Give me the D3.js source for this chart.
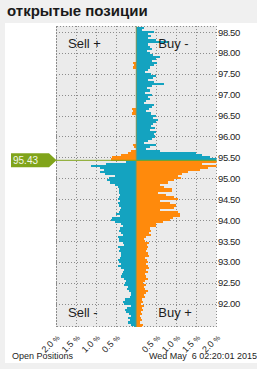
<!DOCTYPE html>
<html>
<head>
<meta charset="utf-8">
<script src="https://cdnjs.cloudflare.com/ajax/libs/d3/7.8.5/d3.min.js"></script>
<style>
  body { margin: 0; background: #f0f0f0; }
  svg { display: block; font-family: "Liberation Sans", Arial, sans-serif; }
  .grid line, .frame { stroke: #8c8c8c; stroke-dasharray: 1,2; shape-rendering: crispEdges; fill: none; }
  .quad { font-size: 13px; fill: #1e1e1e; }
  .axis text { fill: #1e1e1e; }
</style>
</head>
<body>
<svg class="position-book"></svg>
<script>
var title = "открытые позиции";
var footerLeft = "Open Positions";
var footerRight = "Wed May  6 02:20:01 2015";
var currentPrice = 95.43;
var topLevel = 98.60, levelStep = 0.05;
var priceTicks = [98.5, 98.0, 97.5, 97.0, 96.5, 96.0, 95.5, 95.0, 94.5, 94.0, 93.5, 93.0, 92.5, 92.0];
var pctTicks = [-2, -1.5, -1, -0.5, 0.5, 1, 1.5, 2];
var quadLabels = ["Sell +", "Buy -", "Sell -", "Buy +"];

// right side (buy), % of positions per 0.05 level, from 98.60 down to 91.45
var longPct = [
  0.20, 0.15, 0.45, 0.30, 0.38, 0.30, 0.50, 0.80, 0.30, 0.35,
  0.40, 0.27, 0.35, 0.42, 0.60, 0.48, 0.40, 0.52, 0.45, 0.35,
  0.30, 0.22, 0.38, 0.50, 0.42, 0.30, 0.45, 0.68, 0.40, 0.27,
  0.35, 0.22, 0.40, 0.30, 0.35, 0.25, 0.20, 0.45, 0.40, 0.33,
  0.25, 0.38, 0.50, 0.42, 0.55, 0.50, 0.42, 0.38, 0.47, 0.35,
  0.50, 0.45, 0.47, 0.40, 0.30, 0.20, 0.50, 0.35, 0.25, 0.60,
  1.50, 1.65, 1.85, 2.10,
  2.05, 1.65, 2.05, 1.80, 1.60, 1.30, 1.15, 1.05, 1.12, 0.95,
  0.80, 0.60, 0.70, 0.90, 0.88, 0.55, 0.75, 0.95, 1.05, 0.60,
  0.85, 1.00, 0.95, 0.58, 1.04, 1.08, 1.10, 0.92, 0.85, 0.67,
  0.50, 0.50, 0.35, 0.38, 0.33, 0.37, 0.25, 0.20, 0.22, 0.33,
  0.28, 0.30, 0.28, 0.25, 0.30, 0.33, 0.22, 0.27, 0.30, 0.25,
  0.30, 0.33, 0.25, 0.29, 0.21, 0.25, 0.30, 0.22, 0.18, 0.25,
  0.20, 0.22, 0.29, 0.25, 0.20, 0.22, 0.15, 0.18, 0.12, 0.20,
  0.15, 0.17, 0.12, 0.15, 0.10, 0.12, 0.14, 0.10, 0.16, 0.14
];

// left side (sell), same levels
var shortPct = [
  0, 0, 0, 0, 0, 0, 0, 0, 0, 0,
  0, 0, 0, 0, 0, 0, 0, 0.08, 0.05, 0.08,
  0, 0, 0, 0, 0, 0, 0, 0, 0, 0,
  0, 0, 0, 0, 0, 0, 0, 0, 0, 0.10,
  0.07, 0.10, 0, 0, 0, 0, 0, 0, 0, 0,
  0, 0, 0, 0, 0, 0, 0.08, 0.06, 0, 0.12,
  0.20, 0.38, 0.60, 0.62,
  0.25, 0.75, 1.12, 0.91, 0.80, 0.91, 0.78, 0.54, 0.68, 0.72,
  0.66, 0.54, 0.45, 0.44, 0.42, 0.44, 0.40, 0.43, 0.45, 0.41,
  0.46, 0.42, 0.38, 0.40, 0.42, 0.50, 0.40, 0.60, 0.62, 0.54,
  0.38, 0.33, 0.40, 0.42, 0.38, 0.33, 0.46, 0.44, 0.42, 0.33,
  0.30, 0.45, 0.40, 0.42, 0.38, 0.38, 0.40, 0.45, 0.42, 0.38,
  0.46, 0.38, 0.30, 0.32, 0.35, 0.38, 0.30, 0.25, 0.28, 0.30,
  0.20, 0.22, 0.17, 0.12, 0.12, 0.15, 0.29, 0.33, 0.30, 0.12,
  0.22, 0.29, 0.25, 0.18, 0.12, 0.20, 0.15, 0.20, 0.12, 0.05
];

var teal = "#14a3c0", orange = "#ff8a0c", green = "#80a41a";

var margin = {top: 26, bottom: 42, left: 56, right: 40.5},
    width = 257 - margin.left - margin.right,
    height = 369 - margin.top - margin.bottom;

var svg = d3.select(".position-book")
    .attr("width", 257)
    .attr("height", 369);

svg.append("rect")
    .attr("x", 5).attr("y", 23)
    .attr("width", 252).attr("height", 340)
    .attr("fill", "#fff");

svg.append("text")
    .attr("x", 7).attr("y", 15.5)
    .style("font-size", "15px").style("font-weight", "bold")
    .attr("fill", "#1a1a1a")
    .text(title);

var chart = svg.append("g")
    .attr("transform", "translate(" + margin.left + "," + margin.top + ")");

var x = d3.scaleLinear().domain([-2, 2]).range([0, width]);
var y = d3.scaleLinear().domain([92, 98.5]).range([303.7 - margin.top, 32 - margin.top]);

var levels = longPct.map(function(d, i) {
  return {price: +(topLevel - i * levelStep).toFixed(2), buy: d, sell: shortPct[i]};
});

chart.append("rect")
    .attr("width", width).attr("height", height)
    .attr("fill", "#ebebeb");

chart.append("clipPath").attr("id", "plot-clip")
  .append("rect").attr("width", width).attr("height", height);

var grid = chart.append("g").attr("class", "grid");
grid.selectAll(".h").data(priceTicks).enter().append("line")
    .attr("x1", 0).attr("x2", width)
    .attr("y1", function(d) { return Math.round(y(d)) + 0.5; })
    .attr("y2", function(d) { return Math.round(y(d)) + 0.5; });
grid.selectAll(".v").data(pctTicks).enter().append("line")
    .attr("x1", function(d) { return x(d); })
    .attr("x2", function(d) { return x(d); })
    .attr("y1", 0).attr("y2", height);

chart.append("rect")
    .attr("class", "frame")
    .attr("x", 0.5).attr("y", 0.5)
    .attr("width", width - 1).attr("height", height - 1);

var bars = chart.append("g")
    .attr("clip-path", "url(#plot-clip)")
    .attr("shape-rendering", "crispEdges");

function barY(d) { return y(d.price + levelStep / 2); }
function barH(d) { return y(d.price - levelStep / 2) - y(d.price + levelStep / 2); }

bars.selectAll(".buy").data(levels.filter(function(d) { return d.buy > 0; }))
  .enter().append("rect")
    .attr("x", x(0))
    .attr("y", barY)
    .attr("width", function(d) { return x(d.buy) - x(0); })
    .attr("height", barH)
    .attr("fill", function(d) { return d.price > currentPrice ? teal : orange; });

bars.selectAll(".sell").data(levels.filter(function(d) { return d.sell > 0; }))
  .enter().append("rect")
    .attr("x", function(d) { return x(-d.sell); })
    .attr("y", barY)
    .attr("width", function(d) { return x(0) - x(-d.sell); })
    .attr("height", barH)
    .attr("fill", function(d) { return d.price > currentPrice ? orange : teal; });

chart.append("line")
    .attr("x1", x(0)).attr("x2", x(0))
    .attr("y1", 0).attr("y2", height)
    .attr("stroke", "#86975a").attr("stroke-width", 1);

// current price marker
var py = y(currentPrice);
chart.append("line")
    .attr("x1", 0).attr("x2", width)
    .attr("y1", py).attr("y2", py)
    .attr("stroke", green).attr("stroke-width", 1);

chart.append("path")
    .attr("d", "M-45," + (py - 7) + "H-7L0.5," + py + "L-7," + (py + 7) + "H-45Z")
    .attr("fill", green);

chart.append("text")
    .attr("x", -43).attr("y", py).attr("dy", "0.36em")
    .style("font-size", "10px")
    .attr("fill", "#f4f8e8")
    .text(d3.format(".2f")(currentPrice));

// quadrant labels
chart.append("text").attr("class", "quad").attr("x", x(-1.7)).attr("y", 21.5).text(quadLabels[0]);
chart.append("text").attr("class", "quad").attr("x", x(0.55)).attr("y", 21.5).text(quadLabels[1]);
chart.append("text").attr("class", "quad").attr("x", x(-1.7)).attr("y", height - 10).text(quadLabels[2]);
chart.append("text").attr("class", "quad").attr("x", x(0.55)).attr("y", height - 10).text(quadLabels[3]);

// price axis
var yAxis = chart.append("g")
    .attr("class", "axis")
    .attr("transform", "translate(" + width + ",0)")
    .call(d3.axisRight(y).tickValues(priceTicks).tickSize(0).tickPadding(1.5).tickFormat(d3.format(".2f")));
yAxis.select(".domain").remove();
yAxis.selectAll("text").style("font-size", "9.5px").style("font-family", "inherit").style("letter-spacing", "-0.4px");

// percent axis
var xAxis = chart.append("g")
    .attr("class", "axis")
    .attr("transform", "translate(0," + height + ")")
    .call(d3.axisBottom(x).tickValues(pctTicks).tickSize(0));
xAxis.select(".domain").remove();
xAxis.selectAll("text")
    .text(null)
    .attr("x", 0).attr("y", 0).attr("dy", "0.35em")
    .attr("text-anchor", "end")
    .attr("transform", "translate(1.5,9) rotate(-45)")
    .style("font-size", "9px").style("font-family", "inherit")
    .each(function(d) {
      var t = d3.select(this);
      t.append("tspan").text(Math.abs(d).toFixed(1) + " ");
      t.append("tspan").style("font-size", "7px").text("%");
    });

svg.append("text")
    .attr("x", 12).attr("y", 359)
    .style("font-size", "9px").attr("fill", "#1e1e1e")
    .text(footerLeft);

svg.append("text")
    .attr("x", 149).attr("y", 359)
    .style("font-size", "9px").style("white-space", "pre").attr("fill", "#1e1e1e")
    .text(footerRight);
</script>
</body>
</html>
